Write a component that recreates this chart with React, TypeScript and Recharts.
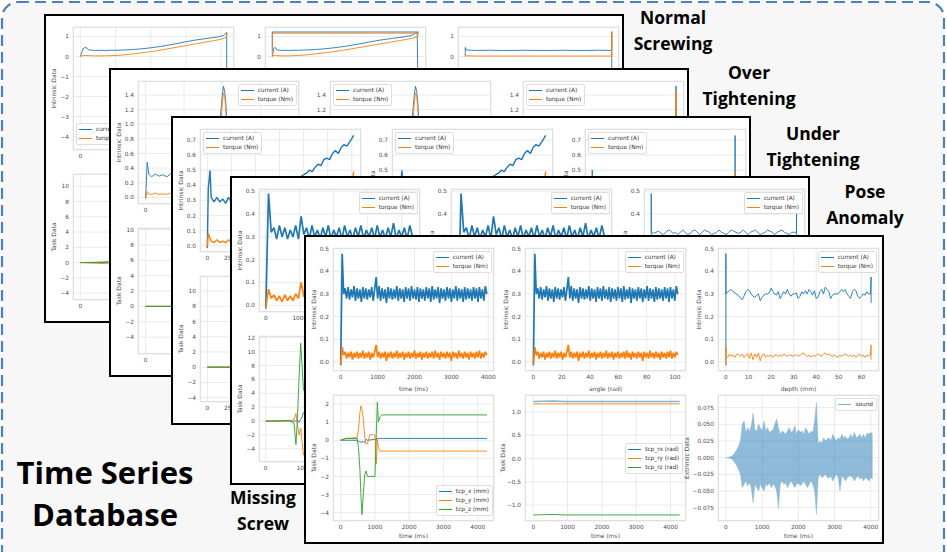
import { ComposedChart, Line, Area, XAxis, YAxis, CartesianGrid, Legend } from "recharts";

const BLUE = "#1f77b4";
const ORANGE = "#ff7f0e";
const GREEN = "#2ca02c";
const FONT = "'DejaVu Sans', sans-serif";
const TITLE_FONT = "'Open Sans', sans-serif";

// ---------- Normal Screwing (back card 1) ----------
const normalTime = [0, 40, 80, 120, 200, 280, 360, 440, 520, 600, 680, 760, 840, 920, 1000, 1080, 1160, 1240, 1320, 1400, 1480, 1560, 1640, 1720, 1800, 1880, 1960, 2040, 2080, 2082];
const normalAngle = [0, 1, 2, 3, 6, 9, 12, 15, 18, 22, 26, 30, 34, 38, 42, 46, 50, 54, 58, 62, 66, 70, 74, 78, 82, 86, 90, 95, 99, 100];
const normalCurrent = [0.0, 0.4, 0.45, 0.33, 0.3, 0.31, 0.3, 0.31, 0.31, 0.32, 0.33, 0.35, 0.37, 0.4, 0.43, 0.47, 0.51, 0.56, 0.61, 0.66, 0.72, 0.77, 0.82, 0.86, 0.9, 0.94, 0.98, 1.05, 1.2, -4.4];
const normalTorque = [0.0, 0.05, 0.05, 0.04, 0.03, 0.03, 0.03, 0.04, 0.05, 0.07, 0.1, 0.13, 0.17, 0.2, 0.24, 0.28, 0.33, 0.38, 0.43, 0.48, 0.53, 0.58, 0.63, 0.68, 0.73, 0.78, 0.83, 0.9, 0.98, 1.18];
const normalReturnAngle = [100, 0, 0];
const normalReturnCurrent = [1.22, 1.22, 0.3];
const normalReturnTorque = [1.16, 1.16, 0.0];
const normalDepth = [0, 0, 0.5, 5, 10, 15, 20, 25, 30, 35, 40, 45, 50, 55, 60.5, 60.5, 60.5];
const normalDepthCurrent = [0.0, 0.45, 0.32, 0.3, 0.31, 0.3, 0.3, 0.31, 0.3, 0.3, 0.31, 0.3, 0.3, 0.31, 0.3, 1.22, -4.4];
const normalDepthTorque = [0.0, 0.05, 0.03, 0.02, 0.02, 0.02, 0.02, 0.02, 0.02, 0.02, 0.02, 0.02, 0.02, 0.02, 0.02, 1.25, 0.0];
const normalTaskTime = [0, 250, 400, 600, 1000, 1500, 2080];
const normalTaskX = [0, 0, 0.05, 0.1, 0.1, 0.1, 0.1];
const normalTaskY = [0, -0.1, -0.15, -0.2, -0.2, -0.2, -0.2];
const normalTaskZ = [0, 0.05, 0.1, 0.1, 0.1, 0.1, 0.1];

// ---------- Over Tightening (back card 2) ----------
const overTime = [0, 40, 80, 150, 250, 350, 450, 550, 650, 750, 850, 950, 1050, 1150, 1250, 1350, 1450, 1550, 1650, 1750, 1850, 1900, 1950, 2000, 2030, 2060, 2090, 2130, 2180, 2300, 2500, 2700, 2900, 3100, 3300, 3500, 3700, 3800];
const overAngle = [0, 1, 2, 4, 6.5, 9, 12, 14.5, 17, 20, 22.5, 25, 27.5, 30, 33, 35.5, 38, 41, 43.5, 46, 48.5, 50, 51.3, 52.6, 53.4, 54.2, 55, 56, 57.4, 60.5, 66, 71, 76, 81.5, 87, 92, 97.4, 100];
const overCurrent = [-0.015, 0.48, 0.32, 0.28, 0.32, 0.29, 0.31, 0.28, 0.32, 0.29, 0.31, 0.28, 0.32, 0.29, 0.31, 0.28, 0.32, 0.29, 0.31, 0.28, 0.32, 0.4, 1.1, 1.4, 1.52, 1.45, 1.3, 0.9, 0.35, 0.3, 0.31, 0.29, 0.3, 0.31, 0.29, 0.3, 0.31, 0.3];
const overTorque = [-0.01, 0.08, 0.05, 0.04, 0.06, 0.04, 0.05, 0.04, 0.06, 0.04, 0.05, 0.04, 0.06, 0.04, 0.05, 0.04, 0.06, 0.04, 0.05, 0.04, 0.06, 0.2, 0.95, 1.3, 1.42, 1.4, 1.2, 0.8, 0.15, 0.05, 0.04, 0.05, 0.04, 0.05, 0.04, 0.05, 0.04, 0.05];
const overDepth = [0, 0, 0.5, 10, 20, 30, 40, 50, 60.2, 60.2, 60.2];
const overDepthCurrent = [-0.015, 0.48, 0.3, 0.31, 0.3, 0.29, 0.31, 0.3, 0.3, 1.52, 0.3];
const overDepthTorque = [-0.01, 0.08, 0.05, 0.04, 0.05, 0.04, 0.05, 0.04, 0.05, 1.45, 0.05];
const overTaskTime = [0, 500, 1000, 1800, 2000, 2200, 3800];
const overTaskX = [0, 0, 0, 0, 0.2, 0.3, 0.3];
const overTaskY = [0, 0, 0.05, 0.05, -1, -2, -2];
const overTaskZ = [0, 0, 0, 0, 2, 1, 1];

// ---------- Under Tightening (back card 3) ----------
const underTime = [0, 100, 280, 400, 700, 1000, 1300, 1600, 1900, 2200, 2500, 2800, 3100, 3400, 3700, 4000, 4500, 5000, 5500, 6000, 6500, 7000, 7500, 8000, 8500, 9000, 9500, 10000, 10300, 10600, 10900, 11200, 11500, 11800, 12100, 12400, 12700, 13000, 13300, 13600, 13900, 14200, 14500, 14800, 15000, 15200];
const underAngle = [0, 0.7, 1.8, 2.6, 4.6, 6.6, 8.6, 10.5, 12.5, 14.5, 16.4, 18.4, 20.4, 22.4, 24.3, 26.3, 29.6, 32.9, 36.2, 39.5, 42.8, 46.1, 49.3, 52.6, 55.9, 59.2, 62.5, 65.8, 67.8, 69.7, 71.7, 73.7, 75.7, 77.6, 79.6, 81.6, 83.6, 85.5, 87.5, 89.5, 91.4, 93.4, 95.4, 97.4, 98.7, 100];
const underCurrent = [-0.015, 0.38, 0.5, 0.32, 0.29, 0.32, 0.29, 0.31, 0.28, 0.32, 0.29, 0.31, 0.29, 0.32, 0.28, 0.31, 0.3, 0.32, 0.31, 0.33, 0.34, 0.36, 0.37, 0.39, 0.41, 0.43, 0.45, 0.47, 0.48, 0.5, 0.49, 0.52, 0.54, 0.53, 0.57, 0.58, 0.57, 0.61, 0.63, 0.61, 0.65, 0.67, 0.66, 0.69, 0.71, 0.73];
const underTorque = [-0.01, 0.08, 0.05, 0.03, 0.02, 0.04, 0.02, 0.03, 0.02, 0.04, 0.02, 0.03, 0.02, 0.04, 0.02, 0.03, 0.02, 0.04, 0.02, 0.03, 0.02, 0.04, 0.02, 0.03, 0.02, 0.04, 0.02, 0.03, 0.02, 0.04, 0.02, 0.03, 0.02, 0.04, 0.03, 0.04, 0.03, 0.05, 0.04, 0.06, 0.08, 0.12, 0.2, 0.3, 0.4, 0.49];
const underDepth = [0, 0, 0, 0.5, 5, 10, 15, 20, 25, 30, 35, 40, 45, 50, 55, 59, 59, 59];
const underDepthCurrent = [-0.015, 0.5, 0.3, 0.3, 0.31, 0.29, 0.3, 0.31, 0.3, 0.29, 0.3, 0.31, 0.3, 0.3, 0.31, 0.3, 0.73, 0.3];
const underDepthTorque = [-0.01, 0.08, 0.03, 0.03, 0.03, 0.02, 0.03, 0.03, 0.03, 0.02, 0.03, 0.03, 0.03, 0.03, 0.03, 0.03, 0.49, 0.03];
const underTaskTime = [0, 3000, 6000, 9000, 12000, 15200];
const underTaskX = [0, 0, 0, 0, 0, 0];
const underTaskY = [0, 0.05, 0.1, 0.1, 0.1, 0.1];
const underTaskZ = [0, 0, 0, 0, 0, 0];

// ---------- Pose Anomaly (back card 4) ----------
const POSE_MS_STEP = 80;
const POSE_RAD_STEP = 1.85;
const poseCurrent = [-0.015, 0.49, 0.32, 0.34, 0.29, 0.35, 0.3, 0.34, 0.29, 0.33, 0.3, 0.35, 0.29, 0.39, 0.31, 0.34, 0.29, 0.35, 0.3, 0.33, 0.29, 0.34, 0.3, 0.35, 0.29, 0.33, 0.3, 0.34, 0.29, 0.35, 0.3, 0.33, 0.29, 0.34, 0.3, 0.35, 0.29, 0.33, 0.3, 0.34, 0.29, 0.35, 0.3, 0.33, 0.29, 0.34, 0.3, 0.36, 0.29, 0.33, 0.3, 0.34, 0.29, 0.35, 0.3];
const poseTorque = [-0.01, 0.07, 0.03, 0.045, 0.02, 0.04, 0.015, 0.045, 0.02, 0.04, 0.02, 0.05, 0.03, 0.1, 0.04, 0.02, 0.045, 0.02, 0.04, 0.015, 0.045, 0.02, 0.04, 0.02, 0.045, 0.015, 0.04, 0.02, 0.045, 0.02, 0.04, 0.015, 0.045, 0.02, 0.04, 0.02, 0.045, 0.015, 0.04, 0.02, 0.045, 0.02, 0.04, 0.015, 0.045, 0.02, 0.04, 0.02, 0.045, 0.015, 0.04, 0.02, 0.045, 0.02, 0.03];
const poseTime = poseCurrent.map((_, i) => i * POSE_MS_STEP);
const poseAngle = poseCurrent.map((_, i) => i * POSE_RAD_STEP);
const poseDepthBody = [0.32, 0.315, 0.32, 0.325, 0.315, 0.31, 0.32, 0.33, 0.325, 0.315, 0.32, 0.31, 0.32, 0.33, 0.32, 0.31, 0.315, 0.325, 0.33, 0.32, 0.31, 0.32, 0.33, 0.325, 0.32, 0.31, 0.315, 0.32, 0.33, 0.32, 0.315, 0.31, 0.32, 0.33, 0.325, 0.32, 0.315, 0.32, 0.33, 0.32, 0.31, 0.32, 0.325, 0.33, 0.32, 0.31, 0.315, 0.32, 0.33, 0.325, 0.32, 0.31, 0.32, 0.325, 0.33, 0.32, 0.315, 0.31, 0.32, 0.32, 0.32];
const poseDepth = [0, 0, ...poseDepthBody.map((_, i) => i), 60, 60];
const poseDepthCurrent = [-0.015, 0.49, ...poseDepthBody, 0.4, 0.27];
const poseDepthTorqueX = [0, 0, 0.5, 10, 20, 30, 40, 50, 60, 60];
const poseDepthTorque = [-0.01, 0.07, 0.03, 0.035, 0.03, 0.035, 0.03, 0.035, 0.03, 0.06];
const poseTaskTime = [0, 300, 600, 740, 790, 830, 870, 914, 950, 985, 1050, 1200, 1500, 2500, 3500, 4000];
const poseTaskX = [0, 0, 0, 0, 0, 0.1, -0.2, 0.2, 0.6, 1.2, 1.5, 1.4, 1.5, 1.5, 1.5, 1.5];
const poseTaskY = [0, 0, 0, 0.2, 1.1, -0.5, -2.0, -1.0, -3.0, -4.9, -4.0, -4.2, -4.0, -4.0, -4.0, -4.0];
const poseTaskZ = [0, 0, 0.1, -0.3, -3.4, 0.5, 6.0, 11.2, 8.0, 4.5, 4.0, 5.0, 4.8, 5.0, 5.0, 5.0];

// ---------- Missing Screw (front card) ----------
const MISS_MS_STEP = 40;
const MISS_RAD_STEP = 1.03;
const missCurrent = [
  -0.015, 0.478, 0.3, 0.325, 0.28, 0.33, 0.275, 0.32, 0.285, 0.335,
  0.27, 0.325, 0.28, 0.32, 0.265, 0.33, 0.28, 0.325, 0.275, 0.32,
  0.285, 0.33, 0.27, 0.32, 0.375, 0.28, 0.335, 0.27, 0.325, 0.28,
  0.32, 0.26, 0.33, 0.28, 0.325, 0.275, 0.32, 0.28, 0.335, 0.27,
  0.325, 0.28, 0.32, 0.265, 0.33, 0.28, 0.325, 0.27, 0.335, 0.28,
  0.32, 0.275, 0.33, 0.265, 0.325, 0.28, 0.32, 0.27, 0.33, 0.28,
  0.325, 0.265, 0.335, 0.275, 0.32, 0.28, 0.33, 0.26, 0.325, 0.28,
  0.32, 0.27, 0.33, 0.28, 0.325, 0.265, 0.32, 0.28, 0.335, 0.27,
  0.325, 0.28, 0.32, 0.265, 0.33, 0.275, 0.325, 0.28, 0.32, 0.27,
  0.33, 0.28, 0.325, 0.265, 0.33, 0.28, 0.32, 0.27, 0.335, 0.3,
];
const missTorque = [
  -0.01, 0.065, 0.03, 0.045, 0.015, 0.04, 0.02, 0.045, 0.01, 0.04,
  0.02, 0.045, 0.015, 0.04, 0.02, 0.05, 0.015, 0.04, 0.02, 0.045,
  0.01, 0.04, 0.02, 0.045, 0.075, 0.02, 0.045, 0.015, 0.04, 0.02,
  0.045, 0.005, 0.04, 0.02, 0.045, 0.015, 0.04, 0.02, 0.05, 0.015,
  0.04, 0.02, 0.045, 0.01, 0.04, 0.02, 0.045, 0.015, 0.04, 0.02,
  0.05, 0.015, 0.04, 0.02, 0.045, 0.01, 0.04, 0.02, 0.045, 0.015,
  0.04, 0.02, 0.045, 0.015, 0.05, 0.02, 0.04, 0.01, 0.045, 0.02,
  0.04, 0.015, 0.045, 0.02, 0.04, 0.005, 0.045, 0.02, 0.04, 0.015,
  0.05, 0.02, 0.04, 0.015, 0.045, 0.02, 0.04, 0.01, 0.045, 0.02,
  0.04, 0.015, 0.045, 0.02, 0.05, 0.015, 0.04, 0.02, 0.045, 0.03,
];
const missTime = missCurrent.map((_, i) => i * MISS_MS_STEP);
const missAngle = missCurrent.map((_, i) => i * MISS_RAD_STEP);

const MISS_MM_STEP = 0.8;
const missDepthCurrentBody = [
  0.3, 0.31, 0.315, 0.32, 0.31, 0.305, 0.3, 0.29, 0.285, 0.275,
  0.29, 0.31, 0.32, 0.315, 0.3, 0.29, 0.285, 0.295, 0.3, 0.27,
  0.285, 0.295, 0.3, 0.3, 0.305, 0.325, 0.31, 0.3, 0.295, 0.31,
  0.28, 0.295, 0.31, 0.3, 0.32, 0.3, 0.29, 0.3, 0.3, 0.305,
  0.28, 0.29, 0.31, 0.3, 0.315, 0.3, 0.32, 0.31, 0.295, 0.315,
  0.28, 0.285, 0.31, 0.32, 0.3, 0.33, 0.32, 0.31, 0.28, 0.295,
  0.3, 0.3, 0.3, 0.31, 0.32, 0.31, 0.32, 0.3, 0.29, 0.28,
  0.31, 0.32, 0.315, 0.29, 0.28, 0.29, 0.3, 0.295, 0.31, 0.3,
  0.3,
];
const missDepthTorqueBody = [
  0.03, 0.02, 0.035, 0.025, 0.03, 0.02, 0.035, 0.03, 0.025, 0.035,
  0.02, 0.03, 0.035, 0.015, 0.04, 0.01, 0.035, 0.02, 0.04, 0.005,
  0.03, 0.035, 0.02, 0.03, 0.025, 0.03, 0.02, 0.03, 0.03, 0.025,
  0.03, 0.025, 0.035, 0.03, 0.025, 0.03, 0.03, 0.025, 0.03, 0.03,
  0.025, 0.03, 0.035, 0.04, 0.03, 0.025, 0.03, 0.02, 0.03, 0.025,
  0.03, 0.035, 0.03, 0.025, 0.035, 0.04, 0.03, 0.035, 0.03, 0.025,
  0.03, 0.025, 0.02, 0.03, 0.025, 0.03, 0.035, 0.03, 0.025, 0.03,
  0.025, 0.03, 0.02, 0.03, 0.035, 0.025, 0.03, 0.02, 0.03, 0.025,
  0.03,
];
const missDepth = [0, 0, ...missDepthCurrentBody.map((_, i) => i * MISS_MM_STEP), 64.3, 64.3];
const missDepthCurrent = [-0.015, 0.478, ...missDepthCurrentBody, 0.375, 0.26];
const missDepthTorque = [-0.015, 0.065, ...missDepthTorqueBody, 0.075, 0.01];

const missTaskTime = [0, 150, 480, 520, 560, 590, 620, 660, 700, 740, 780, 850, 1000, 1040, 1070, 1100, 1150, 1200, 4270];
const missTcpX = [0, 0, 0, -0.05, -0.1, -0.1, -0.1, -0.08, -0.12, 0.05, 0.0, 0.02, 0.05, 0.1, 0.08, 0.1, 0.1, 0.1, 0.1];
const missTcpY = [0, 0.1, 0.15, 0.6, 1.5, 1.9, 1.7, 1.2, 0.2, -0.2, -0.2, 0.3, 0.3, -1.3, 0.1, -0.4, -0.6, -0.6, -0.6];
const missTcpZ = [0, 0.1, 0.1, -0.4, -1.6, -3.0, -4.1, -3.0, -1.9, -1.7, -2.0, -2.0, -2.0, 0.4, 2.1, 1.0, 1.3, 1.4, 1.4];

const missRotTime = [0, 600, 900, 4270];
const missRx = [1.22, 1.23, 1.22, 1.22];
const missRy = [1.17, 1.17, 1.17, 1.17];
const missRz = [-1.21, -1.2, -1.21, -1.21];

const SOUND_MS_STEP = 50;
const soundHigh = [
  0, 0, 0.001, 0.002, 0.004, 0.008, 0.012, 0.018, 0.025, 0.05,
  0.055, 0.038, 0.045, 0.04, 0.048, 0.067, 0.042, 0.04, 0.05, 0.045,
  0.04, 0.055, 0.04, 0.045, 0.038, 0.04, 0.042, 0.05, 0.058, 0.045,
  0.035, 0.04, 0.038, 0.035, 0.04, 0.045, 0.038, 0.04, 0.048, 0.035,
  0.042, 0.038, 0.04, 0.035, 0.045, 0.04, 0.035, 0.04, 0.038, 0.055,
  0.083, 0.02, 0.025, 0.022, 0.03, 0.025, 0.028, 0.03, 0.025, 0.035,
  0.03, 0.025, 0.03, 0.028, 0.035, 0.03, 0.032, 0.028, 0.03, 0.035,
  0.03, 0.038, 0.03, 0.032, 0.035, 0.03, 0.035, 0.03, 0.037, 0.035,
  0.038, 0.035,
];
const soundLow = [
  0, 0, -0.001, -0.002, -0.004, -0.008, -0.012, -0.018, -0.025, -0.045,
  -0.04, -0.035, -0.042, -0.038, -0.045, -0.068, -0.04, -0.045, -0.05, -0.04,
  -0.045, -0.05, -0.04, -0.042, -0.038, -0.045, -0.04, -0.042, -0.05, -0.076,
  -0.04, -0.035, -0.04, -0.038, -0.045, -0.04, -0.035, -0.04, -0.045, -0.04,
  -0.038, -0.042, -0.04, -0.035, -0.04, -0.045, -0.04, -0.035, -0.04, -0.05,
  -0.085, -0.03, -0.025, -0.03, -0.028, -0.025, -0.03, -0.03, -0.028, -0.035,
  -0.03, -0.025, -0.03, -0.05, -0.028, -0.03, -0.035, -0.03, -0.028, -0.028,
  -0.03, -0.035, -0.03, -0.028, -0.032, -0.03, -0.035, -0.03, -0.032, -0.035,
  -0.03, -0.032,
];
const soundTime = soundHigh.map((_, i) => i * SOUND_MS_STEP);

// ---------- ticks ----------
const ticks4k = [0, 1000, 2000, 3000, 4000];
const ticks2k = [0, 500, 1000, 1500, 2000];
const ticks16k = [0, 2500, 5000, 7500, 10000, 12500, 15000];
const angleTicks = [0, 20, 40, 60, 80, 100];
const depthTicks = [0, 10, 20, 30, 40, 50, 60];
const normalYTicks = [-4, -3, -2, -1, 0, 1];
const overYTicks = [0, 0.2, 0.4, 0.6, 0.8, 1.0, 1.2, 1.4];
const underYTicks = [0, 0.1, 0.2, 0.3, 0.4, 0.5, 0.6, 0.7];
const halfYTicks = [0, 0.1, 0.2, 0.3, 0.4, 0.5];
const taskTicks10 = [-4, -2, 0, 2, 4, 6, 8, 10];
const taskTicks12 = [-4, -2, 0, 2, 4, 6, 8, 10, 12];
const tcpTicks = [-4, -3, -2, -1, 0, 1, 2];
const rotTicks = [-1.0, -0.5, 0.0, 0.5, 1.0];
const soundTicks = [-0.075, -0.05, -0.025, 0, 0.025, 0.05, 0.075];

type Series = { name: string; color: string; xs: number[]; ys: number[]; hide?: boolean; width?: number; opacity?: number };
type Band = { name: string; xs: number[]; lo: number[]; hi: number[] };
type Spec = {
  xDomain: [number, number]; xTicks: number[]; xLabel?: string; noXTicks?: boolean;
  yDomain: [number, number]; yTicks: number[]; yDigits: number; yLabel: string;
  yw?: number; yLabelDx?: number;
  lines: Series[]; band?: Band;
  legend?: { top?: number; bottom?: number; left?: number; right?: number };
};

const pts = (xs: number[], ys: number[]) => ys.map((y, i) => ({ x: xs[i], y }));
const cur = (xs: number[], ys: number[], extra: Partial<Series> = {}): Series => ({ name: "current (A)", color: BLUE, xs, ys, ...extra });
const trq = (xs: number[], ys: number[], extra: Partial<Series> = {}): Series => ({ name: "torque (Nm)", color: ORANGE, xs, ys, ...extra });
const tcp = (t: number[], x: number[], y: number[], z: number[]): Series[] => [
  { name: "tcp_x (mm)", color: BLUE, xs: t, ys: x },
  { name: "tcp_y (mm)", color: ORANGE, xs: t, ys: y },
  { name: "tcp_z (mm)", color: GREEN, xs: t, ys: z },
];

const TR = { top: 3, right: 2 };
const TL = { top: 3, left: 3 };
const BL = { bottom: 5, left: 3 };
const DENSE = { width: 1.7 };
const SEMI = { width: 1.4 };

// back cards: only the parts that peek out from under the next card carry axis text
const normalCharts: Spec[] = [
  { xDomain: [-104, 2184], xTicks: ticks2k, yDomain: [-4.67, 1.47], yTicks: normalYTicks, yDigits: 0, yLabel: "Intrinsic Data", legend: BL,
    lines: [cur(normalTime, normalCurrent), trq(normalTime, normalTorque)] },
  { xDomain: [-5, 105], xTicks: angleTicks, noXTicks: true, yDomain: [-4.67, 1.47], yTicks: normalYTicks, yDigits: 0, yLabel: "Intrinsic Data",
    lines: [cur(normalAngle, normalCurrent), trq(normalAngle, normalTorque), cur(normalReturnAngle, normalReturnCurrent, { hide: true }), trq(normalReturnAngle, normalReturnTorque, { hide: true })] },
  { xDomain: [-3, 63.5], xTicks: depthTicks, noXTicks: true, yDomain: [-4.67, 1.47], yTicks: normalYTicks, yDigits: 0, yLabel: "Intrinsic Data",
    lines: [cur(normalDepth, normalDepthCurrent), trq(normalDepth, normalDepthTorque)] },
  { xDomain: [-104, 2184], xTicks: ticks2k, yDomain: [-4.9, 11.6], yTicks: taskTicks10, yDigits: 0, yLabel: "Task Data",
    lines: tcp(normalTaskTime, normalTaskX, normalTaskY, normalTaskZ) },
];

const overCharts: Spec[] = [
  { xDomain: [-200, 4000], xTicks: [0, 1000, 2000, 3000], yDomain: [-0.09, 1.59], yTicks: overYTicks, yDigits: 1, yLabel: "Intrinsic Data", legend: TR,
    lines: [cur(overTime, overCurrent), trq(overTime, overTorque)] },
  { xDomain: [-5, 105], xTicks: angleTicks, noXTicks: true, yDomain: [-0.09, 1.59], yTicks: overYTicks, yDigits: 1, yLabel: "Intrinsic Data", legend: TL,
    lines: [cur(overAngle, overCurrent), trq(overAngle, overTorque)] },
  { xDomain: [-3, 63.5], xTicks: depthTicks, noXTicks: true, yDomain: [-0.09, 1.59], yTicks: overYTicks, yDigits: 1, yLabel: "Intrinsic Data", legend: TL,
    lines: [cur(overDepth, overDepthCurrent), trq(overDepth, overDepthTorque)] },
  { xDomain: [-200, 4000], xTicks: [0, 1000, 2000, 3000], yDomain: [-6.2, 10.2], yTicks: taskTicks10, yDigits: 0, yLabel: "Task Data",
    lines: tcp(overTaskTime, overTaskX, overTaskY, overTaskZ) },
];

const underCharts: Spec[] = [
  { xDomain: [-760, 15960], xTicks: ticks16k, yDomain: [-0.042, 0.773], yTicks: underYTicks, yDigits: 1, yLabel: "Intrinsic Data", legend: TL,
    lines: [cur(underTime, underCurrent, SEMI), trq(underTime, underTorque, SEMI)] },
  { xDomain: [-5, 105], xTicks: angleTicks, noXTicks: true, yDomain: [-0.042, 0.773], yTicks: underYTicks, yDigits: 1, yLabel: "Intrinsic Data", legend: TL,
    lines: [cur(underAngle, underCurrent, SEMI), trq(underAngle, underTorque, SEMI)] },
  { xDomain: [-3, 63.5], xTicks: depthTicks, noXTicks: true, yDomain: [-0.042, 0.773], yTicks: underYTicks, yDigits: 1, yLabel: "Intrinsic Data", legend: TL,
    lines: [cur(underDepth, underDepthCurrent), trq(underDepth, underDepthTorque)] },
  { xDomain: [-760, 15960], xTicks: ticks16k, yDomain: [-4.57, 11.97], yTicks: taskTicks10, yDigits: 0, yLabel: "Task Data",
    lines: tcp(underTaskTime, underTaskX, underTaskY, underTaskZ) },
];

const poseCharts: Spec[] = [
  { xDomain: [-200, 4540], xTicks: ticks4k, yDomain: [-0.03, 0.51], yTicks: halfYTicks, yDigits: 1, yLabel: "Intrinsic Data", legend: TR,
    lines: [cur(poseTime, poseCurrent, DENSE), trq(poseTime, poseTorque, DENSE)] },
  { xDomain: [-5, 105], xTicks: angleTicks, noXTicks: true, yDomain: [-0.03, 0.51], yTicks: halfYTicks, yDigits: 1, yLabel: "Intrinsic Data", legend: TR,
    lines: [cur(poseAngle, poseCurrent, DENSE), trq(poseAngle, poseTorque, DENSE)] },
  { xDomain: [-3, 63.5], xTicks: depthTicks, noXTicks: true, yDomain: [-0.03, 0.51], yTicks: halfYTicks, yDigits: 1, yLabel: "Intrinsic Data", legend: TR,
    lines: [cur(poseDepth, poseDepthCurrent), trq(poseDepthTorqueX, poseDepthTorque)] },
  { xDomain: [-175, 4030], xTicks: ticks4k, yDomain: [-5.9, 12.25], yTicks: taskTicks12, yDigits: 0, yLabel: "Task Data",
    lines: tcp(poseTaskTime, poseTaskX, poseTaskY, poseTaskZ) },
];

const missCharts: Spec[] = [
  { xDomain: [-209, 4155], xTicks: ticks4k, xLabel: "time (ms)", yDomain: [-0.04, 0.503], yTicks: halfYTicks, yDigits: 1, yLabel: "Intrinsic Data", legend: TR,
    lines: [cur(missTime, missCurrent, DENSE), trq(missTime, missTorque, DENSE)] },
  { xDomain: [-5.9, 107.8], xTicks: angleTicks, xLabel: "angle (rad)", yDomain: [-0.04, 0.503], yTicks: halfYTicks, yDigits: 1, yLabel: "Intrinsic Data", legend: TR,
    lines: [cur(missAngle, missCurrent, DENSE), trq(missAngle, missTorque, DENSE)] },
  { xDomain: [-3.5, 67.8], xTicks: depthTicks, xLabel: "depth (mm)", yDomain: [-0.04, 0.503], yTicks: halfYTicks, yDigits: 1, yLabel: "Intrinsic Data", legend: TR,
    lines: [cur(missDepth, missDepthCurrent), trq(missDepth, missDepthTorque)] },
  { xDomain: [-225, 4476], xTicks: ticks4k, xLabel: "time (ms)", yDomain: [-4.46, 2.5], yTicks: tcpTicks, yDigits: 0, yLabel: "Task Data", legend: { bottom: 5, right: 1 },
    lines: tcp(missTaskTime, missTcpX, missTcpY, missTcpZ) },
  { xDomain: [-240, 4450], xTicks: ticks4k, xLabel: "time (ms)", yDomain: [-1.34, 1.36], yTicks: rotTicks, yDigits: 1, yLabel: "Task Data", yLabelDx: 22, legend: { top: 48, right: 3 },
    lines: [
      { name: "tcp_rx (rad)", color: BLUE, xs: missRotTime, ys: missRx, width: 1.6, opacity: 0.55 },
      { name: "tcp_ry (rad)", color: ORANGE, xs: missRotTime, ys: missRy },
      { name: "tcp_rz (rad)", color: GREEN, xs: missRotTime, ys: missRz },
    ] },
  { xDomain: [-220, 4228], xTicks: ticks4k, xLabel: "time (ms)", yDomain: [-0.095, 0.094], yTicks: soundTicks, yDigits: 3, yLabel: "Extrinsic Data", yw: 42, yLabelDx: 31, legend: TR,
    lines: [], band: { name: "sound", xs: soundTime, lo: soundLow, hi: soundHigh } },
];

const COL_X = [27, 219, 412];
const ROW_Y = [11, 158];
const ROW_H = [123, 126];
const PLOT_W = 161;
const PAD_TOP = 5;
const PAD_RIGHT = 8;
const XH = 24;

const fmt = (d: number) => (v: number) => (v < 0 ? "\u2212" : "") + Math.abs(v).toFixed(d);

function LegendBox(props: any) {
  const items = (props.payload || []).filter((p: any) => p.type !== "none");
  return (
    <div style={{ background: "rgba(255,255,255,0.85)", border: "1px solid #dedede", borderRadius: 2, padding: "1px 3px 1px 2px", fontFamily: FONT, fontSize: 5.8, color: "#333", lineHeight: "9px", whiteSpace: "nowrap" }}>
      {items.map((p: any) => (
        <div key={p.value} style={{ display: "flex", alignItems: "center" }}>
          <span style={{ display: "inline-block", width: 13, height: 1.3, background: p.color, marginRight: 4 }} />
          <span>{p.value}</span>
        </div>
      ))}
    </div>
  );
}

function Subplot({ col, row, spec }: { col: number; row: number; spec: Spec }) {
  const yw = spec.yw ?? 30;
  const h = ROW_H[row];
  const xLabelDy = row === 0 ? 17 : 14;
  const tick = { fontSize: 5.8, fill: "#4d4d4d", fontFamily: FONT };
  const lg = spec.legend;
  const wrap: any = {};
  if (lg) {
    if (lg.top !== undefined) wrap.top = PAD_TOP + lg.top;
    if (lg.bottom !== undefined) wrap.bottom = XH + lg.bottom;
    if (lg.left !== undefined) wrap.left = yw + lg.left;
    if (lg.right !== undefined) wrap.right = PAD_RIGHT + lg.right;
  }
  const xLabel = spec.xLabel
    ? { value: spec.xLabel, position: "insideBottom", offset: XH - (xLabelDy + 3), fontSize: 6, fill: "#4d4d4d", fontFamily: FONT }
    : undefined;
  return (
    <div style={{ position: "absolute", left: COL_X[col] - yw, top: ROW_Y[row] - PAD_TOP }}>
      <ComposedChart width={yw + PLOT_W + PAD_RIGHT} height={PAD_TOP + h + XH} margin={{ top: PAD_TOP, right: PAD_RIGHT, bottom: 0, left: 0 }}>
        <CartesianGrid stroke="#e4e4e4" strokeWidth={0.8} />
        <XAxis type="number" dataKey="x" domain={spec.xDomain} ticks={spec.xTicks} interval={0} allowDataOverflow height={XH}
          axisLine={false} tickLine={false} tickSize={3} tickMargin={1} tick={spec.noXTicks ? false : tick} label={xLabel as any} />
        <YAxis type="number" domain={spec.yDomain} ticks={spec.yTicks} interval={0} allowDataOverflow width={yw}
          axisLine={false} tickLine={false} tickSize={3} tickMargin={1} tick={tick} tickFormatter={fmt(spec.yDigits)}
          label={{ value: spec.yLabel, angle: -90, position: "insideLeft", offset: yw - (spec.yLabelDx ?? 19), fontSize: 6, fill: "#4d4d4d", fontFamily: FONT, style: { textAnchor: "middle" } }} />
        {spec.band && (
          <Area data={spec.band.xs.map((x, i) => ({ x, y: [spec.band!.lo[i], spec.band!.hi[i]] }))} dataKey="y" name={spec.band.name}
            type="linear" stroke="#7fb1d9" strokeWidth={0.4} fill={BLUE} fillOpacity={0.5} dot={false} activeDot={false} isAnimationActive={false} />
        )}
        {spec.lines.map((s, i) => (
          <Line key={i} data={pts(s.xs, s.ys)} dataKey="y" name={s.name} type="linear" dot={false} activeDot={false}
            stroke={s.color} strokeWidth={s.width ?? 0.9} strokeOpacity={s.opacity ?? 1} strokeLinejoin="bevel" legendType={s.hide ? "none" : "line"} isAnimationActive={false} />
        ))}
        {lg && <Legend layout="vertical" align="center" verticalAlign="middle" wrapperStyle={wrap} content={(p: any) => <LegendBox {...p} />} />}
      </ComposedChart>
      <div style={{ position: "absolute", left: yw, top: PAD_TOP, width: PLOT_W, height: h, border: "1px solid #e0e0e0", boxSizing: "border-box", pointerEvents: "none" }} />
    </div>
  );
}

const BACK_SLOTS = [[0, 0], [1, 0], [2, 0], [0, 1]];
const FRONT_SLOTS = [[0, 0], [1, 0], [2, 0], [0, 1], [1, 1], [2, 1]];

const CARDS = [
  { left: 44, top: 14, charts: normalCharts, slots: BACK_SLOTS },
  { left: 109, top: 68, charts: overCharts, slots: BACK_SLOTS },
  { left: 171, top: 116, charts: underCharts, slots: BACK_SLOTS },
  { left: 230, top: 176, charts: poseCharts, slots: BACK_SLOTS },
  { left: 304, top: 235, charts: missCharts, slots: FRONT_SLOTS },
];

const CAPTIONS = [
  { cx: 673, cy: 17, lines: ["Normal", "Screwing"] },
  { cx: 749, cy: 72, lines: ["Over", "Tightening"] },
  { cx: 813, cy: 133, lines: ["Under", "Tightening"] },
  { cx: 865, cy: 191, lines: ["Pose", "Anomaly"] },
  { cx: 263, cy: 497, lines: ["Missing", "Screw"] },
];

export default function App() {
  return (
    <div style={{ position: "absolute", left: 0, top: 0, width: 947, height: 552, overflow: "hidden", background: "#fff" }}>
      <svg width={947} height={552} style={{ position: "absolute", left: 0, top: 0 }}>
        <rect x={2} y={2} width={942} height={620} rx={16} ry={16} fill="#f7f7f7" stroke="#4f7fc0" strokeWidth={2.2} strokeDasharray="11 6" />
      </svg>
      {CARDS.map((c, ci) => (
        <div key={ci} style={{ position: "absolute", left: c.left, top: c.top, width: 580, height: 309, background: "#fff", border: "2px solid #000", boxSizing: "border-box", overflow: "hidden" }}>
          {c.charts.map((spec, i) => (
            <Subplot key={i} col={c.slots[i][0]} row={c.slots[i][1]} spec={spec} />
          ))}
        </div>
      ))}
      {CAPTIONS.map((t, i) => (
        <div key={i} style={{ position: "absolute", left: t.cx - 70, top: t.cy - 13, width: 140, textAlign: "center", fontFamily: TITLE_FONT, fontWeight: 700, fontSize: 17.5, lineHeight: "26px", color: "#000" }}>
          {t.lines[0]}<br />{t.lines[1]}
        </div>
      ))}
      <div style={{ position: "absolute", left: 0, top: 451, width: 210, textAlign: "center", fontFamily: TITLE_FONT, fontWeight: 700, fontSize: 31, lineHeight: "42px", color: "#000" }}>
        Time Series<br />Database
      </div>
    </div>
  );
}
